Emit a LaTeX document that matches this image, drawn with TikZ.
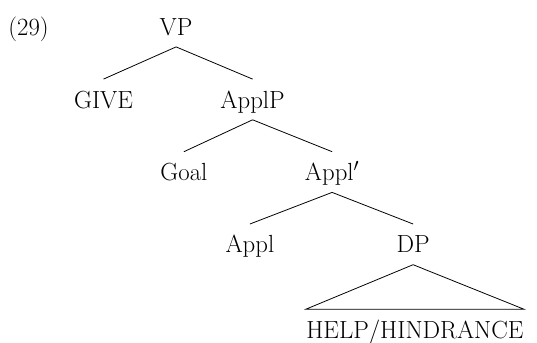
\documentclass[tikz,border=0pt]{standalone}
\usetikzlibrary{positioning}

\begin{document}
\begin{tikzpicture}[line width=0.75pt, font=\fontsize{23.5}{28}\selectfont,
    cat/.style={anchor=base, inner xsep=0pt, inner ysep=0.38cm, text height=0.57cm, text depth=0pt}]
        \useasboundingbox (0,0) rectangle (17.9,-11.4);
        \node[anchor=base] (ex) at (0.95,-1.17) {(29)};
        \node[cat] (vp) at (5.87,-1.17) {VP};
        \node[cat] (give) at (3.45,-3.6) {GIVE};
        \node[cat] (applp) at (8.42,-3.6) {ApplP};
        \node[cat] (goal) at (6.13,-6.02) {Goal};
        \node[cat] (applbar) at (11.07,-6.02) {Appl$'$};
        \node[cat] (appl) at (8.33,-8.43) {Appl};
        \node[cat] (dp) at (13.77,-8.43) {DP};
        \node[cat] (help) at (13.83,-11.27) {HELP/HINDRANCE};
        
        \path
        (vp.south) edge (give.north)
        (vp.south) edge (applp.north)
        (applp.south) edge (goal.north)
        (applp.south) edge (applbar.north)
        (applbar.south) edge (appl.north)
        (applbar.south) edge (dp.north);
        \draw (dp.south) -- (help.north west) -- (help.north east) -- cycle;
    \end{tikzpicture}
\end{document}
